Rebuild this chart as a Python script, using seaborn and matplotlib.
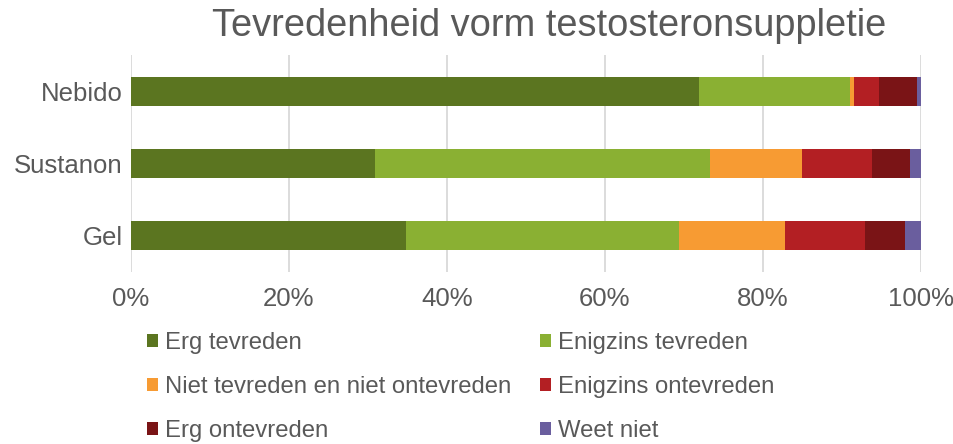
import numpy as np
import pandas as pd
import matplotlib
matplotlib.use("Agg")
import matplotlib.pyplot as plt
import seaborn as sns

# =========================================================
# DATA (percent per answer)
# =========================================================

vormen = ["Nebido", "Sustanon", "Gel"]

antwoorden = [
    "Erg tevreden",
    "Enigzins tevreden",
    "Niet tevreden en niet ontevreden",
    "Enigzins ontevreden",
    "Erg ontevreden",
    "Weet niet",
]

erg_tevreden = [71.9, 30.9, 34.8]
enigzins_tevreden = [19.1, 42.4, 34.6]
neutraal = [0.5, 11.6, 13.4]
enigzins_ontevreden = [3.2, 8.9, 10.1]
erg_ontevreden = [4.8, 4.8, 5.1]
weet_niet = [0.5, 1.4, 2.0]

kleuren = ["#5B7520", "#8AB033", "#F79B33", "#B31F23", "#7A1416", "#6A5E9E"]

# =========================================================
# TABLE
# =========================================================

df = pd.DataFrame(
    [erg_tevreden, enigzins_tevreden, neutraal,
     enigzins_ontevreden, erg_ontevreden, weet_niet],
    index=antwoorden, columns=vormen,
).T
df = df.div(df.sum(axis=1), axis=0)
cum = df.cumsum(axis=1)

# =========================================================
# PLOT
# =========================================================

sns.set_style("white")
plt.rcParams["font.family"] = ["Liberation Sans", "DejaVu Sans"]

GREY = "#595959"

fig = plt.figure(figsize=(9.54, 4.44), dpi=100)
ax = fig.add_axes([131 / 954, 1 - 272 / 444, 790 / 954, 217 / 444])

# stacked bars: draw cumulative totals from the back to the front
for naam, kleur in reversed(list(zip(antwoorden, kleuren))):
    sns.barplot(
        x=cum[naam].values, y=vormen, orient="h",
        color=kleur, width=0.4, saturation=1,
        edgecolor="none", linewidth=0, ax=ax, label=naam,
    )

ax.set_xlim(0, 1)
ax.set_ylim(2.5, -0.5)
ax.set_xticks(np.arange(0, 1.01, 0.2))
ax.set_xticklabels([f"{int(round(t * 100))}%" for t in np.arange(0, 1.01, 0.2)])
ax.xaxis.grid(True, color="#D9D9D9", linewidth=1.3)
ax.set_axisbelow(True)
for s in ax.spines.values():
    s.set_visible(False)
ax.tick_params(axis="both", length=0, labelsize=18.5, labelcolor=GREY)
ax.tick_params(axis="x", pad=11)
ax.tick_params(axis="y", pad=6)
ax.set_xlabel("")
ax.set_ylabel("")

fig.text(549 / 954, 1 - 26 / 444, "Tevredenheid vorm testosteronsuppletie",
         ha="center", va="center", fontsize=27.4, color=GREY)

# legend, row by row in two columns
handles, labels = ax.get_legend_handles_labels()
lookup = dict(zip(labels, handles))
volgorde = [antwoorden[0], antwoorden[2], antwoorden[4],
            antwoorden[1], antwoorden[3], antwoorden[5]]
leg = fig.legend(
    [lookup[n] for n in volgorde], volgorde,
    loc="upper left", bbox_to_anchor=(147 / 954, 1 - 332 / 444),
    ncol=2, frameon=False, fontsize=17.2,
    handlelength=0.46, handleheight=0.46, handletextpad=0.3,
    columnspacing=1.2, labelspacing=0.92, borderpad=0, borderaxespad=0,
)
for t in leg.get_texts():
    t.set_color(GREY)
if ax.get_legend() is not None:
    ax.get_legend().remove()

fig.savefig("out.png", dpi=100)
